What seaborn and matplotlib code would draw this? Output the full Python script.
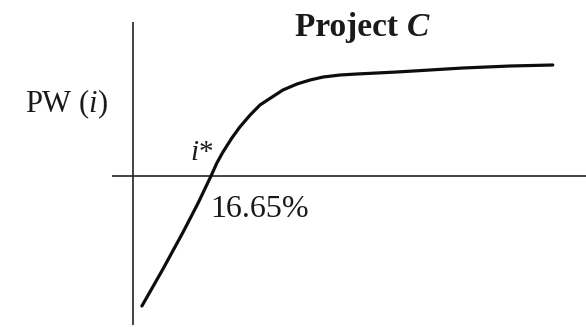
import matplotlib
matplotlib.use("Agg")
import matplotlib.pyplot as plt
import seaborn as sns
import pandas as pd

# Present worth of Project C as a function of the interest rate (%)
rate = [1.9, 6.4, 10.7, 13.9, 16.65, 17.9, 19.2, 21.1, 22.8, 25.0, 27.1, 29.7,
        32.0, 35.0, 37.8, 40.6, 44.2, 47.8, 56.3, 63.4, 70.4, 80.5, 89.6]
pw = [-130, -93, -56, -27, 0, 13, 24, 38, 49, 61, 71, 79,
      86, 92, 96, 99, 101, 102, 104, 106, 108, 110, 111]
irr = 16.65

title_main = "Project "
title_var = "C"
ylabel_text = r"PW ($\mathit{i}$)"
irr_symbol = r"$\mathit{i}$*"
irr_label = f"{irr:.2f}%"

sns.set_style("white")
plt.rcParams["font.family"] = ["Liberation Serif", "DejaVu Serif"]
plt.rcParams["mathtext.fontset"] = "custom"
plt.rcParams["mathtext.rm"] = "Liberation Serif"
plt.rcParams["mathtext.it"] = "Liberation Serif:italic"
plt.rcParams["mathtext.bf"] = "Liberation Serif:bold"

df = pd.DataFrame({"rate": rate, "pw": pw})

fig = plt.figure(figsize=(5.86, 3.27), dpi=100)
ax = fig.add_axes([0, 0, 1, 1])
ax.set_xlim(-28.39, 96.69)
ax.set_ylim(-151, 176)
ax.axis("off")

# Hand-drawn style axes
ax.plot([-4.5, 96.7], [0, 0], color="#111111", lw=1.1, solid_capstyle="butt")
ax.plot([0, 0], [-149, 154], color="#222222", lw=1.2, solid_capstyle="butt")

sns.lineplot(data=df, x="rate", y="pw", ax=ax, color="#0d0d0d", lw=2.3,
             solid_joinstyle="round", solid_capstyle="round")

# Title: "Project" in bold, variable C in bold italic
t = ax.text(34.6, 140, title_main, fontsize=24, fontweight="bold",
            ha="left", va="baseline", color="#1a1a1a")
ax.annotate(title_var, xy=(1, 0), xycoords=t, fontsize=24, fontweight="bold",
            fontstyle="italic", ha="left", va="bottom", color="#1a1a1a")

ax.text(-23.05, 64, ylabel_text, fontsize=22, ha="left", va="baseline", color="#1a1a1a")
ax.text(12.2, 16, irr_symbol, fontsize=21, ha="left", va="baseline", color="#1a1a1a")
ax.text(irr - 0.2, -41, irr_label, fontsize=23, ha="left", va="baseline", color="#1a1a1a")

fig.savefig("out.png", dpi=100)
